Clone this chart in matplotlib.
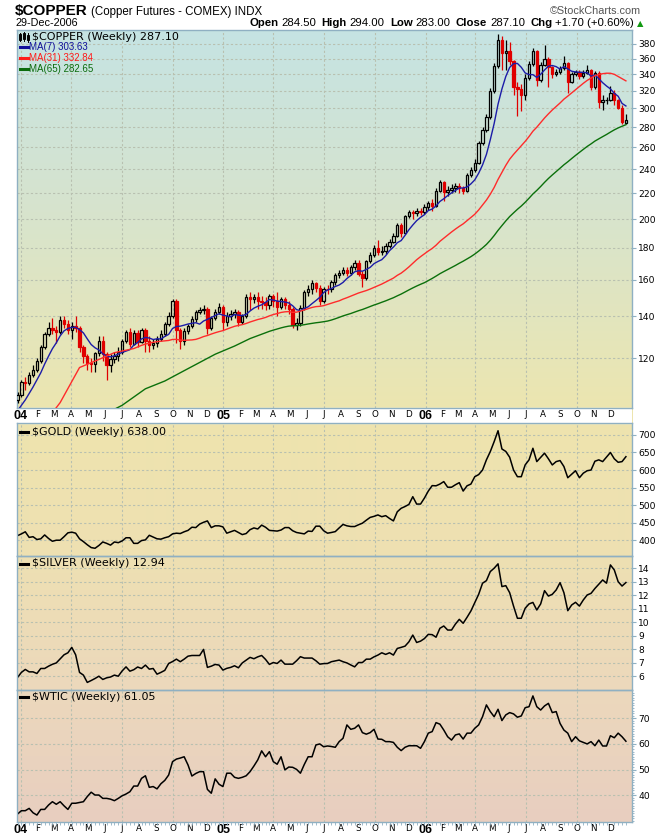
import numpy as np
import pandas as pd
import matplotlib
matplotlib.use('Agg')
import matplotlib.pyplot as plt
import matplotlib.dates as mdates
from matplotlib.patches import Rectangle
from matplotlib.lines import Line2D
from matplotlib.ticker import NullLocator

W, H = 670, 838
ARIAL = ['Liberation Sans', 'DejaVu Sans']

# weekly bars, Friday dates
dates = pd.date_range('2003-12-26', '2006-12-29', freq='W-FRI')

copper_close = [
    105, 110, 109.5, 113, 115, 119, 125, 131, 134, 133,
    132, 138, 136, 133, 135, 134, 125, 121, 118, 117.5,
    122.5, 128, 122, 117, 119.5, 121, 123, 128, 132, 126.5,
    131.8, 127.5, 133, 128, 126, 127, 129, 131, 136, 140,
    148, 133, 128, 132.5, 135, 138.5, 142, 143, 144, 134,
    139, 142, 145, 137, 140, 141, 142, 137, 140, 150,
    149, 150.5, 148, 147.5, 146, 151, 148, 145, 149, 146,
    144, 135.5, 136.5, 144.5, 153, 155, 158, 155.5, 148, 155,
    154.5, 159, 163, 164, 166, 164, 167.5, 170, 163.5, 161,
    171.5, 175, 180, 177, 178, 181, 184, 188, 195.5, 190,
    202, 205.5, 204.5, 206, 205, 209, 212, 210, 222, 229,
    221, 222.5, 224, 226, 224, 222, 235, 239, 246, 264,
    277, 291, 320, 350, 385, 368, 370, 357, 325, 322,
    315, 335, 353, 370, 333, 352, 360, 349, 341, 343,
    348, 355, 331, 340, 343, 338, 342, 345, 325, 342,
    307, 309, 310, 318, 309, 301, 285, 287.1]
copper_high = [
    106, 111, 112, 114, 117, 120, 126, 132, 137, 139,
    135, 140, 140, 138, 137, 140, 135, 126, 122, 120,
    123, 130, 130, 123, 122, 123, 125, 129, 133, 134,
    133, 133, 134, 134, 130, 129, 130, 133, 137, 142,
    149, 149, 134, 134, 136, 140, 143, 145, 146, 145,
    140, 144, 147, 146, 142, 143, 144, 143, 141, 152,
    153, 152, 153, 151, 150, 152, 152, 153, 150, 150,
    148, 145, 139, 146, 154, 157, 160, 159, 157, 156,
    157, 160, 164, 166, 168, 168, 169, 172, 172, 165,
    172, 177, 182, 185, 181, 183, 186, 190, 197, 197,
    203, 207, 207, 208, 208, 211, 214, 215, 224, 231,
    230, 226, 227, 228, 228, 226, 237, 242, 249, 266,
    280, 294, 323, 354, 394, 392, 385, 383, 358, 330,
    328, 340, 357, 375, 372, 356, 378, 362, 351, 347,
    350, 364, 356, 343, 346, 345, 345, 352, 347, 344,
    344, 315, 313, 326, 321, 311, 304, 294]
copper_low = [
    102, 104, 107, 109, 112, 114, 118, 124, 130, 131,
    127, 131, 134, 131, 129, 132, 123, 118, 115, 114,
    114, 121, 119, 111, 114, 118, 119, 122, 127, 125,
    126, 125, 127, 123, 123, 124, 125, 128, 130, 135,
    139, 127, 124, 126, 131, 134, 137, 141, 141, 131,
    133, 138, 141, 133, 135, 138, 139, 135, 136, 139,
    143, 147, 144, 144, 143, 144, 145, 140, 144, 144,
    141, 134, 133, 135, 143, 151, 152, 153, 146, 147,
    152, 153, 157, 161, 163, 162, 163, 166, 162, 156,
    160, 170, 174, 175, 175, 176, 180, 183, 187, 187,
    189, 201, 200, 202, 203, 204, 207, 206, 209, 221,
    214, 218, 220, 221, 220, 219, 221, 233, 238, 245,
    262, 275, 289, 318, 348, 345, 346, 352, 315, 292,
    297, 310, 333, 350, 326, 330, 350, 325, 336, 338,
    341, 346, 318, 329, 338, 334, 335, 340, 321, 322,
    300, 298, 305, 308, 304, 299, 283, 283]
copper_first_open = 103.0
copper_last_open = 284.5

# moving-average values before enough bars exist on the chart
ma7_early_weeks, ma7_early = [0, 2, 4], [99, 103, 108]
ma31_early_weeks = [0, 6, 11, 16, 21, 25]
ma31_early = [84, 93, 102, 116, 119.5, 122.5]
ma65_early_weeks = [0, 20, 27, 33, 38, 42, 51, 56, 60]
ma65_early = [80, 96, 101, 107.3, 110.4, 113.8, 121.8, 125.5, 129]

gold = [
    413, 418, 424, 408, 410, 402, 404, 415, 405, 397,
    400, 400, 410, 421, 423, 420, 404, 396, 387, 379,
    377, 385, 395, 391, 386, 395, 393, 398, 407, 407,
    391, 391, 399, 401, 414, 409, 404, 403, 407, 410,
    418, 420, 419, 424, 428, 437, 436, 446, 451, 455,
    436, 441, 441, 438, 420, 424, 428, 422, 416, 419,
    430, 435, 432, 443, 437, 428, 427, 426, 429, 436,
    436, 427, 422, 420, 418, 426, 425, 440, 440, 427,
    420, 422, 424.5, 435, 445, 441, 439, 439, 444, 448.5,
    457, 465, 468, 472, 467, 470, 462, 455, 481, 491,
    496, 502, 524, 503, 503, 520, 540, 555.6, 555, 560,
    567, 551, 551, 558, 564, 540, 555, 560, 581, 587,
    600, 629, 652.5, 681, 712, 660, 653, 636.5, 600, 581,
    581, 614.5, 629, 662, 624, 636, 648, 632, 614.5, 624,
    627, 610, 578, 588, 598, 578, 591, 598, 600, 625,
    629, 624, 637, 650, 632, 622, 624, 638]
silver = [
    5.93, 6.3, 6.52, 6.34, 6.34, 6.22, 6.59, 6.59, 6.76, 6.9,
    7.0, 7.3, 7.6, 7.75, 8.15, 7.6, 6.3, 6.1, 5.56, 5.7,
    5.85, 6.02, 5.78, 5.9, 5.96, 6.1, 6.02, 6.41, 6.71, 6.39,
    6.5, 6.7, 6.59, 6.84, 6.54, 6.59, 6.17, 6.3, 6.45, 6.96,
    7.1, 7.28, 7.09, 7.28, 7.5, 7.55, 7.55, 7.55, 8.0, 6.67,
    6.76, 6.89, 6.84, 6.47, 6.6, 6.67, 6.79, 6.64, 7.0, 7.21,
    7.41, 7.31, 7.45, 7.55, 7.26, 6.89, 7.03, 6.96, 7.21, 6.91,
    6.91, 6.91, 7.16, 7.46, 7.36, 7.36, 7.36, 7.16, 6.91, 6.95,
    6.96, 7.09, 7.15, 7.21, 7.09, 7.0, 6.85, 6.71, 7.03, 7.03,
    7.28, 7.28, 7.45, 7.58, 7.75, 7.63, 7.75, 7.58, 8.07, 8.15,
    8.24, 8.56, 9.06, 8.51, 8.61, 8.8, 9.11, 9.09, 8.9, 9.56,
    9.73, 9.43, 9.43, 9.87, 10.22, 9.93, 10.37, 10.84, 11.45, 12.07,
    12.89, 13.08, 13.75, 14.0, 14.32, 12.64, 12.71, 12.19, 11.2, 10.3,
    10.3, 11.04, 11.36, 11.47, 10.91, 11.36, 12.34, 11.94, 12.07, 12.39,
    12.93, 12.19, 10.86, 11.28, 11.48, 11.2, 11.65, 12.02, 12.14, 12.5,
    12.81, 13.13, 12.89, 14.24, 13.87, 13.0, 12.68, 12.94]
wtic = [
    32.7, 34.0, 34.0, 34.9, 33.2, 32.3, 34.5, 34.5, 36.2, 37.5,
    36.5, 37.5, 35.9, 34.5, 36.9, 36.9, 37.2, 37.5, 39.5, 41.2,
    40.1, 40.1, 38.8, 38.8, 38.5, 37.9, 38.8, 39.8, 40.5, 41.4,
    43.6, 43.6, 46.6, 47.6, 43.1, 43.4, 42.5, 44.5, 45.8, 47.9,
    53.1, 54.1, 54.5, 55.0, 51.8, 47.5, 48.5, 49.2, 49.2, 42.3,
    40.8, 46.4, 44.3, 43.4, 48.6, 48.6, 47.0, 46.6, 47.0, 47.6,
    49.2, 51.4, 53.8, 57.3, 55.0, 57.0, 53.1, 52.1, 55.0, 49.9,
    51.0, 50.9, 50.1, 48.6, 52.0, 55.0, 55.0, 59.6, 60.0, 58.9,
    59.2, 59.0, 58.7, 60.9, 62.2, 67.4, 65.7, 66.1, 67.4, 64.4,
    63.8, 64.4, 65.7, 61.9, 61.8, 60.9, 60.9, 60.6, 58.7, 57.4,
    58.7, 59.3, 59.3, 59.3, 58.3, 60.9, 64.2, 64.8, 68.3, 67.7,
    65.4, 62.8, 61.5, 63.5, 63.9, 61.9, 64.2, 64.2, 66.1, 67.4,
    70.6, 75.2, 72.6, 70.6, 73.5, 69.1, 71.3, 72.2, 71.7, 70.4,
    70.9, 74.1, 74.5, 78.7, 74.5, 73.2, 74.8, 75.8, 72.2, 72.6,
    68.0, 65.4, 64.2, 60.9, 62.8, 61.2, 60.6, 60.0, 60.9, 59.3,
    61.5, 59.2, 59.2, 63.2, 62.4, 64.2, 62.8, 61.05]

main_ticks = [120, 140, 160, 180, 200, 220, 240, 260, 280, 300, 320, 340, 360, 380]
gold_ticks = [400, 450, 500, 550, 600, 650, 700]
silver_ticks = [6, 7, 8, 9, 10, 11, 12, 13, 14]
wtic_ticks = [40, 50, 60, 70]


def fx(x):
    return x / W


def fy(y):
    return 1 - y / H


fig = plt.figure(figsize=(W / 100, H / 100), dpi=100)
fig.patch.set_facecolor('white')

L, R = 16.7, 632
TOP, MAIN_BOT, GOLD_TOP, GOLD_BOT, SIL_BOT, BOT = 30, 408, 423, 556, 690, 822

# background gradient behind all panels
bg = fig.add_axes([fx(L), fy(BOT), (R - L) / W, (BOT - TOP) / H])
stops_y = [30, 220, 405, 423, 556, 690, 822]
stops_c = np.array([(197, 227, 227), (216, 228, 204), (236, 230, 176),
                    (238, 228, 174), (238, 224, 178), (236, 216, 188),
                    (232, 206, 192)]) / 255.0
rows = np.arange(TOP, BOT)
grad = np.stack([np.interp(rows, stops_y, stops_c[:, k]) for k in range(3)], axis=1)
bg.imshow(grad[:, None, :], extent=(0, 1, 0, 1), aspect='auto', interpolation='bilinear')
bg.add_patch(Rectangle((0, (BOT - GOLD_TOP) / (BOT - TOP)), 1,
                       (GOLD_TOP - MAIN_BOT) / (BOT - TOP), color='white', zorder=3))
bg.axis('off')

border = '#8fb0c2'
gridc = '#b8c0b0'


def panel(top, bot):
    a = fig.add_axes([fx(L), fy(bot), (R - L) / W, (bot - top) / H])
    a.patch.set_alpha(0)
    for s in a.spines.values():
        s.set_color(border)
        s.set_linewidth(1.0)
    a.yaxis.tick_right()
    a.tick_params(axis='y', which='major', length=3, width=0.8, color=border,
                  pad=1.5, labelsize=6.6)
    a.grid(axis='y', which='major', color=gridc, lw=0.8, ls=(0, (2, 2)))
    a.set_axisbelow(True)
    return a


ax = panel(TOP, MAIN_BOT)
axg = panel(GOLD_TOP, GOLD_BOT)
axs = panel(GOLD_BOT, SIL_BOT)
axw = panel(SIL_BOT, BOT)

x = mdates.date2num(dates)
xlim = (x[0] - 1.5, x[-1] + 11)

close = np.array(copper_close)
high = np.array(copper_high)
low = np.array(copper_low)
prev = np.r_[copper_first_open, close[:-1]]
opn = prev.copy()
opn[-1] = copper_last_open
red = close < prev
filled = close < opn
edge = np.where(red, '#e00000', 'black')
face = [e if f else 'none' for e, f in zip(edge, filled)]
lo_b = np.minimum(opn, close)
hi_b = np.maximum(opn, close)

ax.set_yscale('log')
ax.vlines(x, low, lo_b, colors=edge, lw=0.9, zorder=3)
ax.vlines(x, hi_b, high, colors=edge, lw=0.9, zorder=3)
ax.bar(x, hi_b - lo_b, bottom=lo_b, width=4.2, color=face, edgecolor=edge,
       linewidth=0.9, zorder=4)

cs = pd.Series(close)
ma7 = cs.rolling(7).mean().to_numpy()
ma31 = cs.rolling(31).mean().to_numpy()
ma65 = cs.rolling(65).mean().to_numpy()
ax.plot(np.r_[x[ma7_early_weeks], x[6:]], np.r_[ma7_early, ma7[6:]],
        color='#1c1ca8', lw=1.0, zorder=5)
ax.plot(np.r_[x[ma31_early_weeks], x[30:]], np.r_[ma31_early, ma31[30:]],
        color='#ff2b2b', lw=1.0, zorder=5)
ax.plot(np.r_[x[ma65_early_weeks], x[64:]], np.r_[ma65_early, ma65[64:]],
        color='#0b700b', lw=1.0, zorder=5)

ax.set_ylim(100, 400)
ax.yaxis.set_minor_locator(NullLocator())
ax.set_yticks(main_ticks)
ax.set_yticklabels([str(t) for t in main_ticks])

axg.plot(x, gold, color='black', lw=1.1)
axg.set_ylim(355, 734)
axg.set_yticks(gold_ticks)

axs.plot(x, silver, color='black', lw=1.1)
axs.set_ylim(5.0, 14.9)
axs.set_yticks(silver_ticks)

axw.plot(x, wtic, color='black', lw=1.1)
axw.set_ylim(29.6, 81)
axw.set_yticks(wtic_ticks)
axw.set_yticks(np.arange(30, 81, 1), minor=True)
axw.tick_params(axis='y', which='minor', length=1.5, width=0.6, color=border)

months = pd.date_range('2004-01-01', '2006-12-01', freq='MS')
mlabels = [d.strftime('%y') if d.month == 1 else 'JFMAMJJASOND'[d.month - 1]
           for d in months]
quarters = pd.date_range('2004-01-01', '2006-10-01', freq='QS')

for a in (ax, axg, axs, axw):
    a.set_xlim(*xlim)
    for q in quarters:
        a.axvline(mdates.date2num(q), color=gridc, lw=0.8, ls=(0, (2, 2)), zorder=1)
    a.set_xticks(mdates.date2num(months))
    if a in (ax, axw):
        a.set_xticklabels(mlabels)
        for t in a.get_xticklabels():
            if t.get_text().isdigit():
                t.set_fontweight('bold')
                t.set_fontsize(9)
                t.set_family(ARIAL)
            else:
                t.set_fontsize(6.3)
    else:
        a.set_xticklabels([])
    a.tick_params(axis='x', which='major', length=0, pad=1.5)

axw.set_xticks(x, minor=True)
axw.tick_params(axis='x', which='minor', length=2, width=0.6, color=border)

over = fig.add_axes([0, 0, 1, 1])
over.axis('off')

# header
head = over.text(fx(15), fy(11), '$COPPER', fontsize=11, fontweight='bold',
                 family=ARIAL, va='center', transform=fig.transFigure)
over.annotate('(Copper Futures - COMEX) INDX', xy=(1, 0), xycoords=head,
              xytext=(2.5, 0.3), textcoords='offset points', va='bottom',
              fontsize=8.3, family=ARIAL)
fig.text(fx(15), fy(23.5), '29-Dec-2006', fontsize=7.8, family=ARIAL, va='center')
fig.text(fx(641), fy(10.5), '\u00a9StockCharts.com', fontsize=7.8,
         family=ARIAL, va='center', ha='right', color='#555555')

pieces = [('Open', 'bold', 0), ('284.50', 'normal', 2), ('High', 'bold', 4),
          ('294.00', 'normal', 2), ('Low', 'bold', 4), ('283.00', 'normal', 2),
          ('Close', 'bold', 4), ('287.10', 'normal', 2), ('Chg', 'bold', 4),
          ('+1.70 (+0.60%)', 'normal', 2)]
prev_t = over.text(fx(249), fy(23.5), pieces[0][0], fontsize=8.2, fontweight='bold',
                   family=ARIAL, va='center', transform=fig.transFigure)
for s, wgt, gap in pieces[1:]:
    prev_t = over.annotate(s, xy=(1, 0), xycoords=prev_t, xytext=(gap, 0),
                           textcoords='offset points', va='bottom',
                           fontsize=8.2, fontweight=wgt, family=ARIAL)
over.annotate('\u25b2', xy=(1, 0), xycoords=prev_t, xytext=(2, 0.5),
              textcoords='offset points', va='bottom', fontsize=6.0,
              color='#119911', family=['DejaVu Sans'])

# legends inside panels
for xs, ys in ((20, (34.5, 40)), (24, (33.5, 39.5)), (28, (35, 40.5))):
    over.add_line(Line2D([fx(xs), fx(xs)], [fy(ys[0] - 1.5), fy(ys[1] + 1.5)],
                         transform=fig.transFigure, color='black', lw=0.7))
    over.add_patch(Rectangle((fx(xs - 1.2), fy(ys[1])), 2.4 / W, (ys[1] - ys[0]) / H,
                             transform=fig.transFigure, facecolor='white',
                             edgecolor='black', lw=0.7))
fig.text(fx(32), fy(37), '$COPPER (Weekly) 287.10', fontsize=8, va='center')

ma_leg = [('MA(7) 303.63', '#10109a', 46.7), ('MA(31) 332.84', '#ff1a1a', 57.7),
          ('MA(65) 282.65', '#0b6b0b', 69.0)]
for s, c, yy in ma_leg:
    over.add_line(Line2D([fx(19.5), fx(28.3)], [fy(yy), fy(yy)],
                         transform=fig.transFigure, color=c, lw=2.2))
    fig.text(fx(29.5), fy(yy), s, fontsize=7, family=ARIAL, color=c, va='center')

for s, yy in (('$GOLD (Weekly) 638.00', 432), ('$SILVER (Weekly) 12.94', 563.5),
              ('$WTIC (Weekly) 61.05', 696.5)):
    over.add_line(Line2D([fx(20), fx(27.5)], [fy(yy), fy(yy)],
                         transform=fig.transFigure, color='black', lw=2.2))
    fig.text(fx(31.5), fy(yy), s, fontsize=8, va='center')

fig.savefig('out.png', dpi=100)
